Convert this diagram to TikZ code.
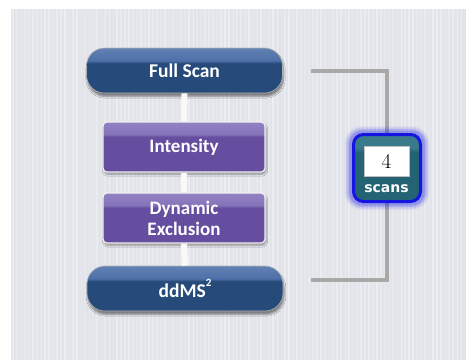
\documentclass[tikz,border=0pt]{standalone}
\usepackage{fontspec}
\newfontfamily\pillfont{Carlito}
\newfontfamily\tagfont{DejaVu Sans}
\usetikzlibrary{shadows.blur}

\definecolor{panel}{HTML}{E3E4EA}
\definecolor{stripe}{HTML}{F3F4F7}
\definecolor{pillTop}{HTML}{4D70A9}
\definecolor{pillBot}{HTML}{264B7A}
\definecolor{boxTop}{HTML}{8674BB}
\definecolor{boxBot}{HTML}{654D9F}
\definecolor{bracketgray}{HTML}{A8A8A8}
\definecolor{tealTop}{HTML}{3A7B8B}
\definecolor{tealBot}{HTML}{246373}
\definecolor{rim}{HTML}{1515E2}

% two-tone fills: lighter band across the top, darker body below
\pgfdeclareverticalshading{pillshade}{100bp}{color(0bp)=(pillBot); color(25bp)=(pillBot); color(58bp)=(pillBot); color(61bp)=(pillTop); color(75bp)=(pillTop!88!white); color(100bp)=(pillTop!88!white)}
\pgfdeclareverticalshading{boxshade}{100bp}{color(0bp)=(boxBot); color(25bp)=(boxBot); color(60bp)=(boxBot); color(63bp)=(boxTop); color(75bp)=(boxTop!90!white); color(100bp)=(boxTop!90!white)}
\pgfdeclareverticalshading{tealshade}{100bp}{color(0bp)=(tealBot); color(25bp)=(tealBot); color(62bp)=(tealBot); color(65bp)=(tealTop); color(100bp)=(tealTop)}

% small raised superscript for the MS level
\newcommand{\msLevel}[1]{\raisebox{0.55em}{\fontsize{11}{12}\selectfont #1}}

\tikzset{
  pill/.style={rectangle, rounded corners=18pt, minimum width=196pt, minimum height=45pt,
    shading=pillshade, draw=gray!60, line width=0.6pt, text=white,
    font=\pillfont\bfseries\fontsize{19.5}{21}\selectfont,
    blur shadow={shadow xshift=1pt, shadow yshift=-3.5pt, shadow blur steps=6, shadow opacity=45}},
  stage/.style={rectangle, rounded corners=4pt, minimum width=162pt, minimum height=50pt,
    shading=boxshade, draw=white!88!gray, line width=1.2pt, text=white, align=center,
    font=\pillfont\bfseries\fontsize{19}{21}\selectfont,
    blur shadow={shadow xshift=1pt, shadow yshift=-2.5pt, shadow blur steps=5, shadow opacity=35}},
  link/.style={draw=white!95!gray, line width=6pt},
  bracketline/.style={draw=bracketgray, line width=4pt, line cap=rect},
  scanbox/.style={rectangle, rounded corners=10pt, minimum width=67pt, minimum height=67pt,
    shading=tealshade, draw=rim, line width=3pt},
  countbox/.style={rectangle, fill=white, draw=gray!50, line width=0.5pt,
    minimum width=45pt, minimum height=30pt, inner sep=0pt,
    font=\fontsize{21}{22}\selectfont},
  tag/.style={text=white, inner sep=0pt, font=\tagfont\bfseries\fontsize{14}{15}\selectfont}
}

\begin{document}
\begin{tikzpicture}[x=1pt, y=-1pt]
  \useasboundingbox (0,0) rectangle (466,360);
  \fill[white] (0,0) rectangle (466,360);

  % striped grey panel
  \fill[panel] (11,9) rectangle (466,360);
  \pgfmathsetseed{11}
  \foreach \i in {0,...,112}{
    \pgfmathsetmacro{\xx}{13+4*\i}
    \pgfmathsetmacro{\op}{0.15+0.55*rnd}
    \pgfmathsetmacro{\lw}{0.8+1.4*rnd}
    \draw[stripe, opacity=\op, line width=\lw pt] (\xx,9) -- (\xx,360);
  }

  % bracket spanning the cycle
  \coordinate (bt) at (313,71);
  \coordinate (bb) at (313,280);
  \draw[bracketline] (bt) -- ++(74,0) |- (bb);

  % workflow steps
  \node[pill]  (full) at (184.5,70.5)  {Full Scan};
  \node[stage] (int)  at (184,147)     {Intensity};
  \node[stage] (dyn)  at (184,218)     {Dynamic\\Exclusion};
  \node[pill]  (dd)   at (185,288.5)   {ddMS\msLevel{2}};

  \draw[link] (full.south) -- (int.north);
  \draw[link] (int.south) -- (dyn.north);
  \draw[link] (dyn.south) -- (dd.north);

  % glowing scan counter
  \foreach \g/\o in {8/0.06, 6.5/0.09, 5/0.13, 3.5/0.18}{
    \fill[rim, opacity=\o, rounded corners=10pt+\g pt]
      (352.5-\g,134-\g) rectangle (421.5+\g,202+\g);
  }
  \node[scanbox] (scan) at (387,168) {};
  \node[countbox] (count) at (386.5,161) {4};
  \node[tag] (scans) at (386.5,189) {scans};
\end{tikzpicture}
\end{document}
